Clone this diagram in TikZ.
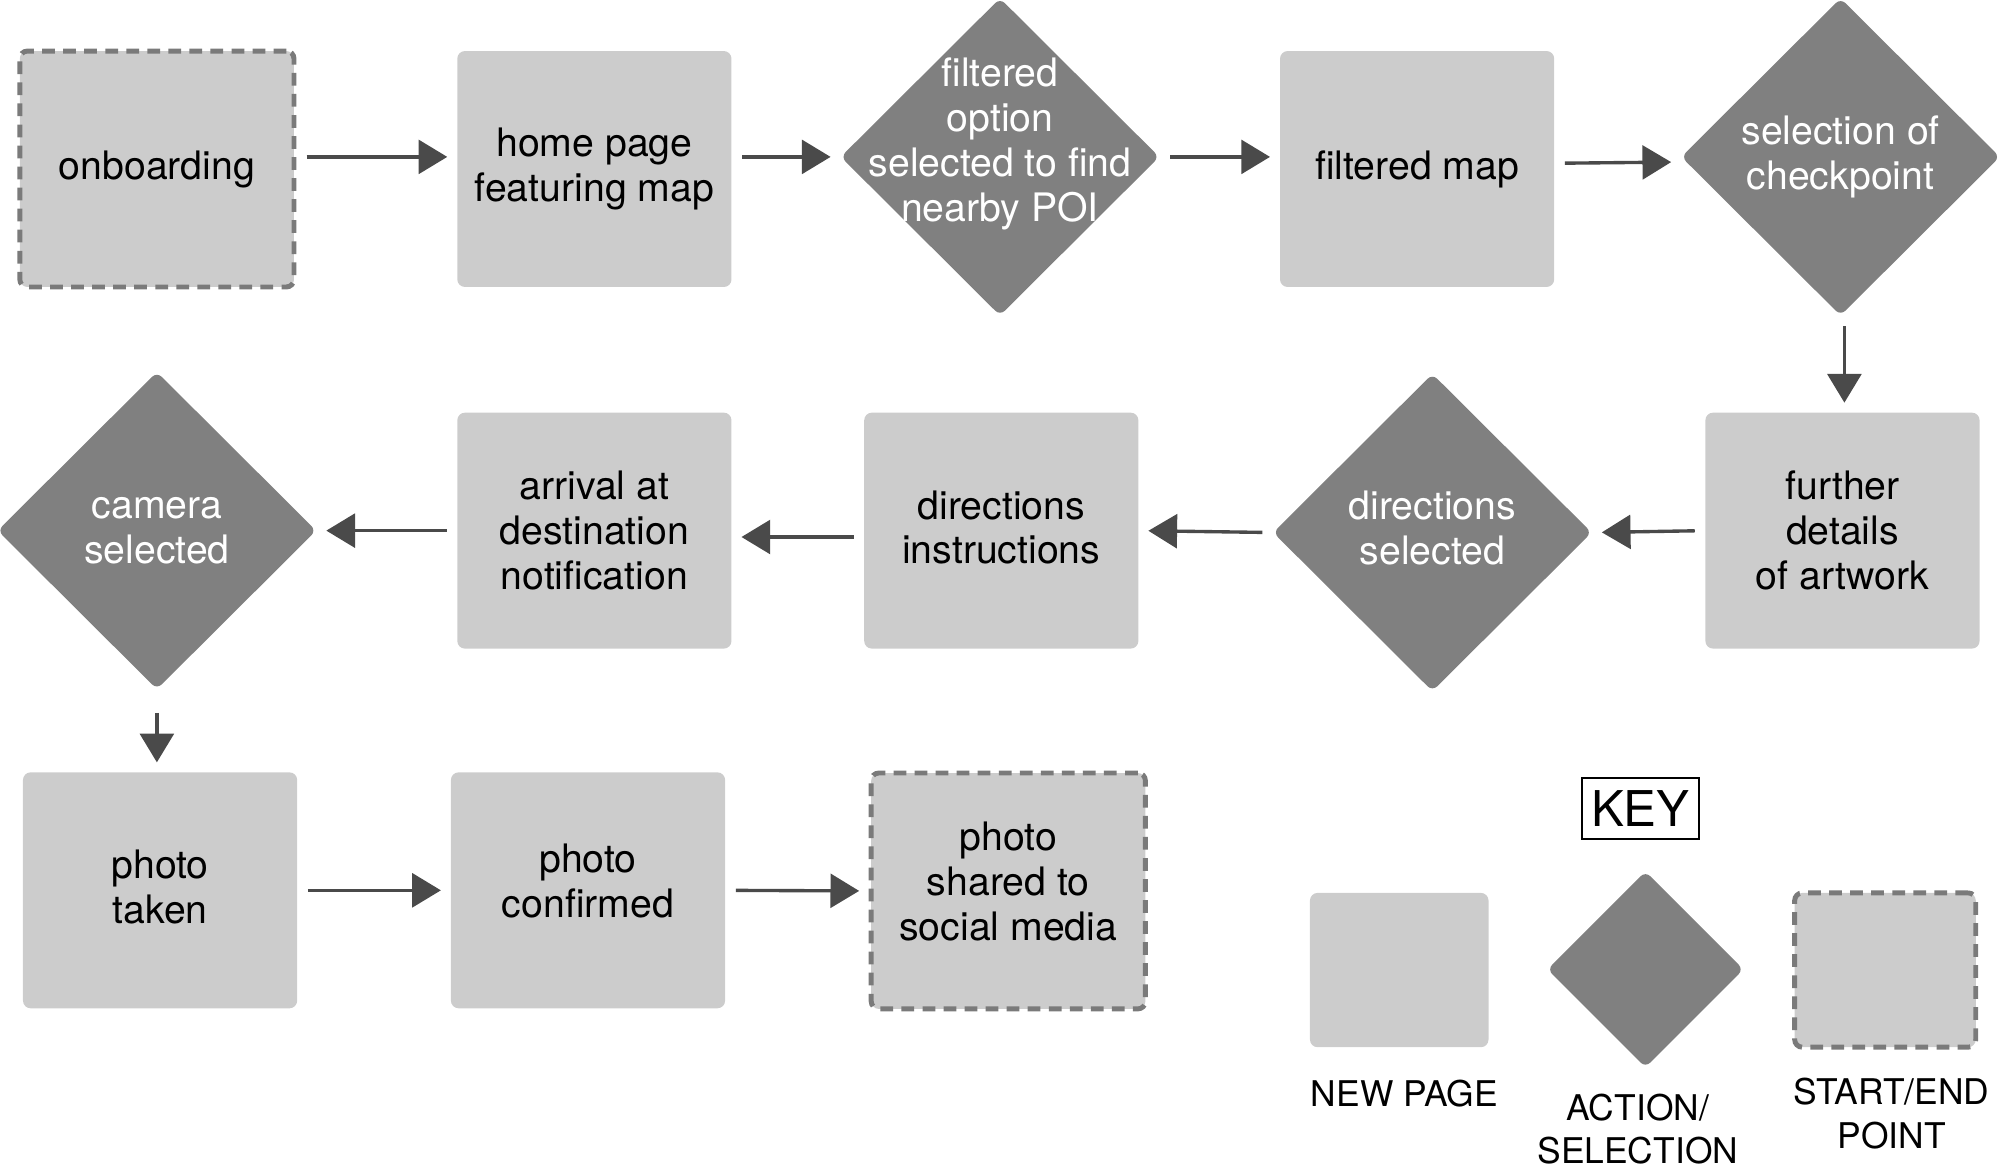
\documentclass[tikz,border=0pt]{standalone}
\usepackage{fontspec}
\setmainfont{TeX Gyre Heros}
\usetikzlibrary{shapes.geometric,arrows.meta,calc}
\definecolor{pagegray}{HTML}{CCCCCC}
\definecolor{actgray}{HTML}{808080}
\definecolor{dashgray}{HTML}{7A7A7A}
\definecolor{arrgray}{HTML}{4A4A4A}
\begin{document}
\begin{tikzpicture}[x=0.02cm,y=-0.02cm,
  pagebox/.style={rectangle, rounded corners=3.4pt, fill=pagegray, draw=none,
    minimum width=4.3cm, minimum height=3.7cm, inner sep=0pt},
  startbox/.style={pagebox, draw=dashgray, line width=2.2pt, dash pattern=on 0.2cm off 0.13cm},
  actshape/.style={diamond, fill=actgray, draw=none, rounded corners=3pt,
    minimum width=5.0cm, minimum height=4.98cm, inner sep=0pt, aspect=1},
  btext/.style={align=center, font=\fontsize{17.5}{20}\selectfont, text=black},
  wtext/.style={align=center, font=\fontsize{17.5}{20}\selectfont, text=white},
  ktext/.style={align=center, font=\fontsize{15.8}{19.4}\selectfont, text=black},
  arr/.style={draw=arrgray, line width=1.5pt, -{Triangle[length=0.45cm,width=0.53cm]},
    shorten <=0.16cm, shorten >=0.15cm},
]
\useasboundingbox (0,0) rectangle (1568,921);

% Row 1
\node[startbox] (ob) at (123,132.5) {};
\node[btext] at (ob) {onboarding};
\node[pagebox] (hp) at (466,132.5) {};
\node[btext] at (hp) {home page\\featuring map};
\node[actshape] (d1) at (784,123) {};
\node[wtext] at ([yshift=0.2cm]d1.center) {filtered\\option\\selected to find\\nearby POI};
\node[pagebox] (fm) at (1111,132.5) {};
\node[btext] at (fm) {filtered map};
\node[actshape] (d2) at (1443,123) {};
\node[wtext] at (d2) {selection of\\checkpoint};

% Row 2
\node[pagebox] (fd) at (1444.5,416) {};
\node[btext] at (fd) {further\\details\\of artwork};
\node[actshape] (d3) at (1123,417.5) {};
\node[wtext] at ([yshift=0.07cm]d3.center) {directions\\selected};
\node[pagebox] (di) at (785,416) {};
\node[btext] at ([yshift=0.05cm]di.center) {directions\\instructions};
\node[pagebox] (ar) at (466,416) {};
\node[btext] at (ar) {arrival at\\destination\\notification};
\node[actshape] (d4) at (123,416) {};
\node[wtext] at (d4) {camera\\selected};

% Row 3
\node[pagebox] (pt) at (125.5,698) {};
\node[btext] at ([yshift=0.05cm]pt.center) {photo\\taken};
\node[pagebox] (pc) at (461,698) {};
\node[btext] at ([yshift=0.15cm]pc.center) {photo\\confirmed};
\node[startbox] (ps) at (790.5,698.5) {};
\node[btext] at ([yshift=0.15cm]ps.center) {photo\\shared to\\social media};

% Connectors
\draw[arr] (ob.east |- d1.center) -- (hp.west |- d1.center);
\draw[arr] (hp.east |- d1.center) -- (d1.west);
\draw[arr] (d1.east) -- (fm.west |- d1.center);
\draw[arr] ([yshift=-0.1cm]fm.east |- d2.center) -- ([yshift=-0.08cm]d2.west);
\draw[arr] ([xshift=0.06cm]d2.south) -- ([xshift=0.06cm]d2.south |- fd.north);
\draw[arr] (fd.west) -- (d3.east);
\draw[arr] (d3.west) -- (di.east);
\draw[arr] ([yshift=-0.1cm]di.west) -- ([yshift=-0.1cm]ar.east);
\draw[arr] (ar.west) -- (d4.east);
\draw[arr, shorten <=0.36cm] (d4.south) -- (d4.south |- pt.north);
\draw[arr] (pt.east) -- (pc.west);
\draw[arr] (pc.east) -- (ps.west);

% Key
\node[draw=black, line width=0.8pt, minimum width=1.84cm, minimum height=0.96cm, inner sep=0pt,
  font=\fontsize{22}{24}\selectfont] (key) at (1286,634) {KEY};
\node[pagebox, minimum width=2.8cm, minimum height=2.42cm] (knp) at (1097,760.5) {};
\node[actshape, minimum width=3.08cm, minimum height=3.08cm] (kact) at (1290,760) {};
\node[startbox, minimum width=2.84cm, minimum height=2.42cm] (kse) at (1478,760.5) {};
\node[ktext] (lnp) at (1101,857) {NEW PAGE};
\node[ktext] (lact) at (1284,885) {ACTION/\\SELECTION};
\node[ktext] (lse) at (1483,873) {START/END\\POINT};
\end{tikzpicture}
\end{document}
